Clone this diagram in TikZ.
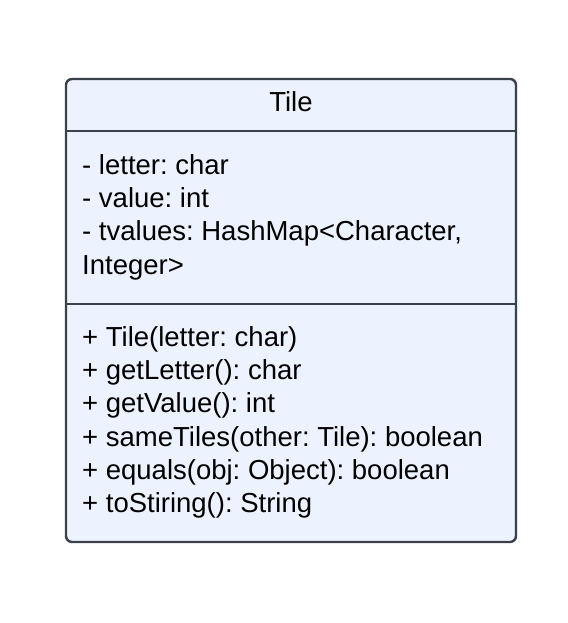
\documentclass[tikz,border=0pt]{standalone}
\usepackage{fontspec}
\setmainfont{Liberation Sans}
\definecolor{boxfill}{HTML}{EDF3FE}
\definecolor{boxline}{HTML}{3A414A}
\begin{document}
\frenchspacing
\begin{tikzpicture}[x=1pt,y=-1pt,
  txt/.style={anchor=base west,inner sep=0pt,font=\fontsize{27.5}{33}\selectfont,text=black},
  ttl/.style={anchor=base,inner sep=0pt,font=\fontsize{27.5}{33}\selectfont,text=black},
  frame/.style={draw=boxline,line width=2.4pt,fill=boxfill,rounded corners=6pt},
  divider/.style={draw=boxline,line width=2.4pt}]
\useasboundingbox (0,0) rectangle (567,623);
\fill[white] (0,0) rectangle (567,623);
\path[frame] (66,79) rectangle (516,542);
\coordinate (d1l) at (66,131); \coordinate (d1r) at (516,131);
\coordinate (d2l) at (66,304); \coordinate (d2r) at (516,304);
\path[divider] (d1l) -- (d1r);
\path[divider] (d2l) -- (d2r);
\node[ttl] (title) at (291,111.5) {Tile};
\node[txt] (a1) at (82,174) {- letter: char};
\node[txt] (a2) at (82,207.3) {- value: int};
\node[txt] (a3) at (82,240.6) {- tvalues: HashMap<Character,};
\node[txt] (a4) at (82,274) {Integer>};
\node[txt] (m1) at (82,346) {+ Tile(letter: char)};
\node[txt] (m2) at (82,379.3) {+ getLetter(): char};
\node[txt] (m3) at (82,412.6) {+ getValue(): int};
\node[txt] (m4) at (82,446) {+ sameTiles(other: Tile): boolean};
\node[txt] (m5) at (82,479.3) {+ equals(obj: Object): boolean};
\node[txt] (m6) at (82,512.6) {+ toStiring(): String};
\end{tikzpicture}
\end{document}
